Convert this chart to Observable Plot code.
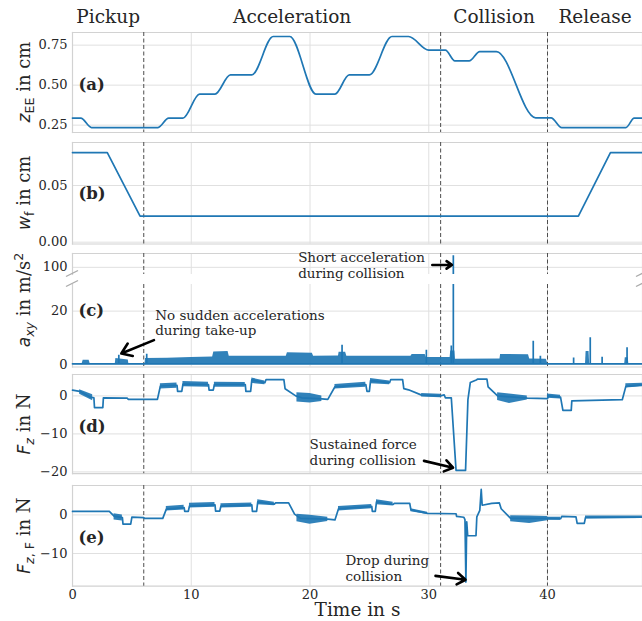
<!DOCTYPE html>
<html><head><meta charset="utf-8">
<script src="https://cdn.jsdelivr.net/npm/d3@7"></script>
<script src="https://cdn.jsdelivr.net/npm/@observablehq/plot@0.6"></script>
<style>
body{margin:0;background:#fff;}
#chart{position:relative;width:642px;height:621px;overflow:hidden;background:#fff;}
#chart svg{position:absolute;left:0;overflow:visible;}
</style></head><body><div id="chart"></div>
<script>
// ---------- data ----------
const phaseNames = ["Pickup", "Acceleration", "Collision", "Release"];
const phaseCenter = [3, 18.5, 35.5, 44];
const phaseBoundary = [6, 31, 40];
const xTicks = [0, 10, 20, 30, 40];

// (a) end-effector height
const zTime  = [0, 0.7, 1.6, 7.2, 8.1, 9.3, 10.7, 12.0, 13.3, 15.1, 16.9, 18.3, 20.5, 22.1, 23.3, 25.0, 26.9, 28.3, 30.0, 31.4, 32.2, 33.4, 34.3, 35.7, 39.0, 40.3, 41.2, 46.6, 47.3, 48];
const zValue = [0.294, 0.294, 0.235, 0.235, 0.294, 0.294, 0.444, 0.444, 0.564, 0.564, 0.804, 0.804, 0.444, 0.444, 0.564, 0.564, 0.804, 0.804, 0.719, 0.719, 0.652, 0.652, 0.71, 0.71, 0.296, 0.296, 0.235, 0.235, 0.294, 0.294];

// (b) finger width
const wTime  = [0, 2.93, 5.69, 42.6, 45.3, 48];
const wValue = [0.079, 0.079, 0.023, 0.023, 0.079, 0.079];

// (c) acceleration
const aBaseTime = [0, 48];
const aBaseValue = [0.2, 0.2];
const aBandSeg  = [1,1,1,1, 2,2,2,2, 3,3,3,3,3,3,3,3,3,3,3,3,3,3,3,3,3,3,3,3,3,3,3,3,3,3,3,3,3,3,3, 4,4,4,4, 5,5,5,5];
const aBandTime = [0.8,0.9,1.4,1.5, 3.6,3.65,4.7,4.75, 6.1,6.15,8,10,11.8,11.9,13.1,13.2,18.0,18.1,20.2,20.3,22.4,22.45,23.0,23.1,28.5,28.6,29.7,29.8,31.8,31.85,32.2,32.25,36.0,36.05,38.4,38.5,39.9,40.0,40.05, 43.2,43.25,43.5,43.55, 46.5,46.55,46.8,46.85];
const aBandHigh = [0,1.5,1.5,0, 0,2.2,1.6,0, 0,2.2,2.3,2.6,2.8,4.6,4.8,3.0,3.0,4.4,4.2,3.0,3.1,4.5,4.5,3.0,3.0,3.7,3.7,2.6,2.6,5.0,5.0,1.9,2.0,3.7,3.6,2.0,1.9,0.6,0, 0,4.8,4.8,0, 0,2.5,2.5,0];
const aSpikeTime   = [3.9, 6.25, 22.7, 29.8, 31.9, 32.07, 38.8, 39.4, 42.2, 43.6, 44.6, 46.7];
const aSpikeHeight = [3.4, 3.8, 7.2, 5.3, 6.9, 104.4, 8.7, 3.0, 2.4, 10.0, 2.7, 6.2];

// (d) measured force
const fzTime  = [0,0.6,1.5,1.8,1.85,2.55,2.6,4.6,4.7,7.15,7.4,8.8,8.85,9.2,9.3,11.45,11.5,11.85,11.95,14.55,14.6,15.0,15.1,16.2,16.3,17.8,17.9,18.8,19.3,21.0,21.5,22.1,24.7,24.8,25.0,25.1,26.7,26.8,27.8,27.9,28.3,29.4,31.0,31.3,31.4,31.9,32.3,33.1,33.3,33.5,34.0,34.1,34.9,35.0,35.8,38.3,40.0,40.1,41.1,41.3,42.0,42.05,46.3,46.6,48];
const fzValue = [1.5,1.2,-0.3,-0.5,-3.1,-3.1,-0.5,-0.6,-0.9,-0.9,2.6,2.8,1.2,1.2,3.1,3.0,1.5,1.5,3.0,3.0,1.2,1.2,4.2,3.5,4.3,4.3,1.9,0.0,-0.5,-0.8,-0.9,2.4,3.0,1.2,1.2,4.0,3.5,4.3,4.3,1.9,1.6,0.2,0.0,0.3,-0.5,-0.5,-19.6,-19.6,-1.0,3.5,4.2,4.4,4.4,2.4,0.0,-0.6,-0.7,0.0,-0.3,-3.8,-3.8,-1.3,-1.0,2.5,2.9];
const fzBandSeg  = [1,1, 2,2, 3,3, 4,4, 5,5, 6,6,6, 7,7, 8,8, 9,9, 10,10,10, 11,11, 12,12];
const fzBandTime = [0.6,1.7, 7.4,8.8, 9.3,11.45, 11.95,14.55, 15.1,16.2, 18.9,20.0,21.0, 22.1,24.7, 25.1,26.7, 29.4,31.0, 35.8,36.8,38.3, 40.0,41.1, 46.6,48];
const fzBandLow  = [0.4,-1.3, 1.8,2.0, 2.4,2.3, 2.3,2.3, 3.3,2.9, -1.6,-1.9,-1.5, 1.8,2.3, 3.2,2.9, -0.3,-0.5, -1.2,-2.0,-1.1, -0.6,-0.8, 2.1,2.4];
const fzBandHigh = [1.6,0.3, 3.2,3.4, 3.8,3.6, 3.6,3.5, 4.7,3.9, 0.8,0.6,0.0, 3.0,3.6, 4.6,3.9, 0.6,0.4, 0.8,0.5,0.0, 0.5,0.2, 3.2,3.3];

// (e) filtered force
const fzfTime  = [0,3.1,3.5,4.2,4.25,4.9,5.0,6.0,6.05,7.6,7.9,9.4,9.45,9.75,9.85,12.0,12.05,12.4,12.5,15.1,15.15,15.5,15.6,17.0,17.1,18.2,18.7,19.2,21.5,22.1,22.4,25.2,25.25,25.5,25.6,27.0,27.1,28.4,28.5,29.9,32.3,32.35,32.95,33.05,33.13,33.2,33.28,33.98,34.05,34.3,34.42,34.5,35.3,35.95,36.1,36.9,40.0,41.1,41.2,42.4,42.5,43.1,43.2,48];
const fzfValue = [0.9,0.9,-0.3,-0.7,-2.4,-2.4,-0.6,-0.7,-0.9,-0.9,1.5,1.9,0.9,0.9,2.3,2.6,1.0,1.0,2.3,2.6,0.9,0.9,3.4,2.8,3.1,3.1,0.2,-0.9,-1.1,-1.3,1.6,2.2,0.9,0.9,3.4,2.7,3.0,3.0,1.3,0.4,0.3,-0.4,-0.6,-1.2,-17.4,-1.8,-5.4,-5.4,-0.5,1.2,6.6,2.5,3.0,3.1,1.6,-0.9,-0.9,-1.0,-0.4,-0.5,-2.2,-2.2,-0.7,-0.6];
const fzfBandSeg  = [1,1, 2,2, 3,3, 4,4, 5,5, 6,6,6, 7,7, 8,8, 9,9, 10,10,10, 11,11, 12,12];
const fzfBandTime = [3.5,4.2, 7.9,9.4, 9.85,12.0, 12.5,15.1, 15.6,17.0, 18.9,20.0,21.5, 22.4,25.2, 25.6,27.0, 28.5,29.9, 36.9,38.5,40.0, 40.0,41.1, 43.2,48];
const fzfBandLow  = [-1.3,-1.6, 1.0,1.3, 1.8,2.0, 1.8,2.0, 2.6,2.4, -1.8,-2.4,-1.7, 1.0,1.6, 2.6,2.3, 0.8,0.1, -1.8,-2.2,-1.5, -1.4,-1.4, -1.0,-0.9];
const fzfBandHigh = [0.3,0.0, 2.2,2.5, 3.0,3.2, 2.9,3.1, 3.9,3.3, 0.2,-0.1,-0.6, 2.2,2.7, 3.9,3.3, 1.6,0.7, -0.2,-0.3,-0.4, -0.6,-0.6, -0.3,-0.3];

// annotations
const noteText = ["Short acceleration\nduring collision", "No sudden accelerations\nduring take-up", "Sustained force\nduring collision", "Drop during\ncollision"];
const noteX = [19.0, 6.96, 19.96, 22.99];
const noteY = [100.9, 15.8, -14.8, -13.7];
const arrowX1 = [30.3, 6.86, 29.6, 30.57];
const arrowY1 = [100.9, 9.1, -17.1, -15.8];
const arrowX2 = [31.95, 4.11, 32.05, 33.1];
const arrowY2 = [100.9, 4.1, -18.9, -16.8];

// ---------- helpers ----------
const W = 642, ML = 72;
const BLUE = "#1f77b4", GRID = "#e0e0e0", FRAME = "#d2d2d2", TEXT = "#262626";
const FONT = "DejaVu Serif";
const root = document.getElementById("chart");

function rows(cols) {
  const keys = Object.keys(cols);
  return cols[keys[0]].map((_, i) => Object.fromEntries(keys.map(k => [k, cols[k][i]])));
}
const zData = rows({t: zTime, v: zValue});
const wData = rows({t: wTime, v: wValue});
const aBase = rows({t: aBaseTime, v: aBaseValue});
const aBand = rows({s: aBandSeg, t: aBandTime, hi: aBandHigh});
const aSpikes = rows({t: aSpikeTime, h: aSpikeHeight});
const fzData = rows({t: fzTime, v: fzValue});
const fzBand = rows({s: fzBandSeg, t: fzBandTime, lo: fzBandLow, hi: fzBandHigh});
const fzfData = rows({t: fzfTime, v: fzfValue});
const fzfBand = rows({s: fzfBandSeg, t: fzfBandTime, lo: fzfBandLow, hi: fzfBandHigh});
const notes = rows({text: noteText, x: noteX, y: noteY, x1: arrowX1, y1: arrowY1, x2: arrowX2, y2: arrowY2});

function noteMarks(i) {
  const d = [notes[i]];
  return [
    Plot.text(d, {x: "x", y: "y", text: "text", textAnchor: "start", lineAnchor: "middle", lineHeight: 1.15, fontSize: 13.5, fill: TEXT}),
    Plot.arrow(d, {x1: "x1", y1: "y1", x2: "x2", y2: "y2", stroke: "black", strokeWidth: 2.6, headLength: 8, headAngle: 70})
  ];
}
function letter(s, dy) {
  return Plot.text([s], {frameAnchor: "left", lineAnchor: "middle", dx: 6, dy, textAnchor: "start", fontSize: 16.5, fontWeight: "bold", fill: TEXT});
}

function panel({frameTop, frameBottom, mt = 8, mb = 8, yDomain, yTicks, yFmt, marks, xAxis = false, sides = ["top", "right", "bottom", "left"]}) {
  const svg = Plot.plot({
    width: W, height: mt + (frameBottom - frameTop) + mb,
    marginLeft: ML, marginRight: 0, marginTop: mt, marginBottom: mb,
    style: {fontFamily: FONT, fontSize: "13px", color: TEXT, background: "none", overflow: "visible"},
    x: {domain: [0, 48], axis: null},
    y: {domain: yDomain, axis: null},
    marks: [
      Plot.gridX({ticks: xTicks.slice(1), stroke: GRID, strokeOpacity: 1, strokeWidth: 1}),
      Plot.gridY({ticks: yTicks, stroke: GRID, strokeOpacity: 1, strokeWidth: 1}),
      ...sides.map(a => Plot.frame({anchor: a, stroke: FRAME, strokeWidth: 1.2})),
      Plot.axisY({ticks: yTicks, tickSize: 0, tickPadding: 5, tickFormat: yFmt, fontSize: 13, fill: TEXT, label: null}),
      ...(xAxis ? [
        Plot.axisX({ticks: xTicks, tickSize: 0, tickPadding: 4, fontSize: 13, fill: TEXT, label: null}),
        Plot.text(["Time in s"], {frameAnchor: "bottom", lineAnchor: "middle", dy: 23.5, fontSize: 18.5, fill: TEXT})
      ] : []),
      Plot.ruleX(phaseBoundary, {stroke: "#4d4d4d", strokeDasharray: "4,2.5", strokeWidth: 1}),
      ...marks
    ]
  });
  svg.style.top = (frameTop - mt) + "px";
  root.appendChild(svg);
}

// (a)
panel({frameTop: 32, frameBottom: 132, mt: 32, yDomain: [0.204, 0.829], yTicks: [0.25, 0.5, 0.75], yFmt: d3.format(".2f"),
  marks: [
    Plot.line(zData, {x: "t", y: "v", stroke: BLUE, strokeWidth: 1.7, curve: "monotone-x"}),
    Plot.text(phaseNames, {x: (d, i) => phaseCenter[i], frameAnchor: "top", lineAnchor: "middle", dy: -15, fontSize: 18.5, fill: TEXT}),
    letter("(a)", 2)
  ]});
// (b)
panel({frameTop: 142, frameBottom: 243.5, yDomain: [-0.0016, 0.0879], yTicks: [0, 0.05], yFmt: d3.format(".2f"),
  marks: [
    Plot.line(wData, {x: "t", y: "v", stroke: BLUE, strokeWidth: 1.7}),
    letter("(b)", 0)
  ]});
// (c) upper part
panel({frameTop: 252.5, frameBottom: 273.5, yDomain: [97.3, 105.2], yTicks: [100], yFmt: d3.format("d"), sides: ["top", "left", "right"],
  marks: [
    Plot.ruleX(aSpikes, {x: "t", y1: 0, y2: "h", stroke: BLUE, strokeWidth: 1.7, clip: true}),
    ...noteMarks(0)
  ]});
// (c) lower part
panel({frameTop: 283.5, frameBottom: 366, yDomain: [-1, 30], yTicks: [0, 20], yFmt: d3.format("d"), sides: ["bottom", "left", "right"],
  marks: [
    Plot.areaY(aBand, {x: "t", y1: 0, y2: "hi", z: "s", fill: BLUE, fillOpacity: 0.92}),
    Plot.line(aBase, {x: "t", y: "v", stroke: BLUE, strokeWidth: 1.7}),
    Plot.ruleX(aSpikes, {x: "t", y1: 0, y2: "h", stroke: BLUE, strokeWidth: 1.7, clip: true}),
    ...noteMarks(1),
    letter("(c)", -15)
  ]});
// (d)
panel({frameTop: 374.3, frameBottom: 473.5, yDomain: [-20.47, 5.63], yTicks: [-20, -10, 0], yFmt: d3.format("d"),
  marks: [
    Plot.areaY(fzBand, {x: "t", y1: "lo", y2: "hi", z: "s", fill: BLUE, fillOpacity: 0.92}),
    Plot.line(fzData, {x: "t", y: "v", stroke: BLUE, strokeWidth: 1.7}),
    ...noteMarks(2),
    letter("(d)", 3)
  ]});
// (e)
panel({frameTop: 485.3, frameBottom: 586, mb: 35, yDomain: [-18.47, 7.62], yTicks: [-10, 0], yFmt: d3.format("d"), xAxis: true,
  marks: [
    Plot.areaY(fzfBand, {x: "t", y1: "lo", y2: "hi", z: "s", fill: BLUE, fillOpacity: 0.92}),
    Plot.line(fzfData, {x: "t", y: "v", stroke: BLUE, strokeWidth: 1.7}),
    ...noteMarks(3),
    letter("(e)", 2)
  ]});

// ---------- overlay: rotated y labels with math and axis-break marks ----------
const ov = d3.create("svg").attr("width", W).attr("height", 621)
  .style("top", "0px").style("pointer-events", "none");
const SANS = "DejaVu Sans";
const yLabels = [
  {cy: 82, parts: [{t: "z", f: SANS, i: 1}, {t: "EE", f: SANS, sub: 1}, {t: " in cm"}]},
  {cy: 192.75, parts: [{t: "w", f: SANS, i: 1}, {t: "f", f: SANS, sub: 1}, {t: " in cm"}]},
  {cy: 300, parts: [{t: "a", f: SANS, i: 1}, {t: "xy", f: SANS, i: 1, sub: 1}, {t: " in m/s"}, {t: "2", f: SANS, sup: 1}]},
  {cy: 424, parts: [{t: "F", f: SANS, i: 1}, {t: "z", f: SANS, i: 1, sub: 1}, {t: " in N"}]},
  {cy: 535.6, parts: [{t: "F", f: SANS, i: 1}, {t: "z", f: SANS, i: 1, sub: 1}, {t: ", F", f: SANS, sub: 1}, {t: " in N"}]}
];
for (const lab of yLabels) {
  const t = ov.append("text").attr("transform", `translate(29.5,${lab.cy}) rotate(-90)`)
    .attr("text-anchor", "middle").attr("font-family", FONT).attr("font-size", 18).attr("fill", TEXT);
  let shift = 0;
  for (const p of lab.parts) {
    const target = p.sub ? 4.5 : p.sup ? -7 : 0;
    const ts = t.append("tspan").text(p.t).attr("dy", target - shift);
    shift = target;
    if (p.f) ts.attr("font-family", p.f);
    if (p.i) ts.attr("font-style", "italic");
    if (p.sub || p.sup) ts.attr("font-size", 12.6);
    else ts.attr("font-size", p.f ? 17 : 18);
  }
}
for (const x of [ML, W]) {
  for (const y of [273.5, 283.5]) {
    ov.append("line").attr("x1", x - 6).attr("y1", y + 3).attr("x2", x + 6).attr("y2", y - 3)
      .attr("stroke", "#aaaaaa").attr("stroke-width", 1.3);
  }
}
root.appendChild(ov.node());
</script></body></html>
